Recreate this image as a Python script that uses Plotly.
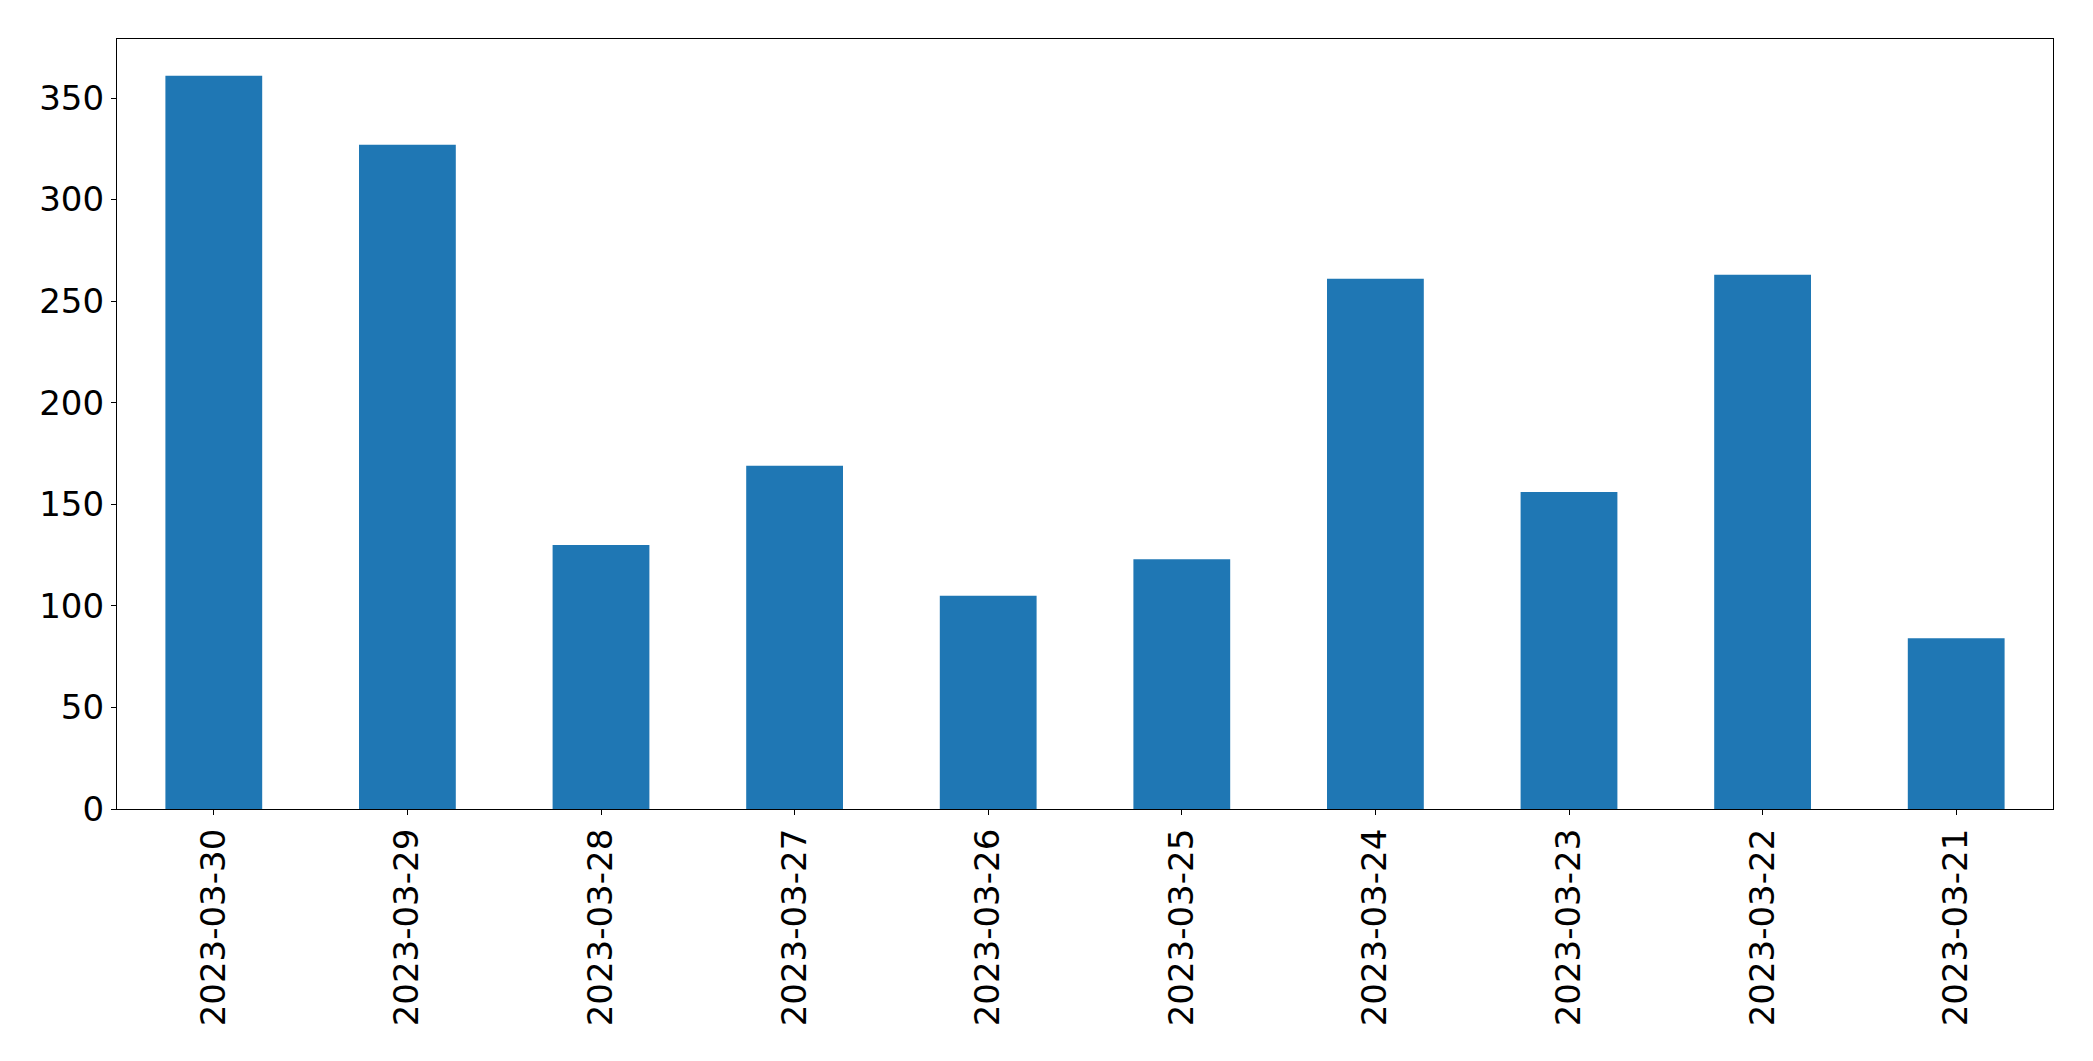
import plotly.graph_objects as go

dates = ["2023-03-30", "2023-03-29", "2023-03-28", "2023-03-27", "2023-03-26",
         "2023-03-25", "2023-03-24", "2023-03-23", "2023-03-22", "2023-03-21"]
counts = [361, 327, 130, 169, 105, 123, 261, 156, 263, 84]
y_ticks = [0, 50, 100, 150, 200, 250, 300, 350]

fig = go.Figure(go.Bar(x=dates, y=counts, width=0.5, marker_color="#1f77b4",
                       marker_line_width=0))

axis_common = dict(showline=True, linecolor="black", linewidth=1.3, mirror=True,
                   ticks="outside", ticklen=5, tickwidth=1.3, tickcolor="black",
                   showgrid=False, zeroline=False,
                   tickfont=dict(family="DejaVu Sans", size=34, color="black"))

fig.update_xaxes(type="category", range=[-0.5, len(dates) - 0.5], tickangle=-90,
                 **axis_common)
fig.update_yaxes(range=[0, max(counts) * 1.05], tickvals=y_ticks, **axis_common)

fig.update_layout(width=2093, height=1061, plot_bgcolor="white", paper_bgcolor="white",
                  margin=dict(l=117, r=40, t=39, b=252), showlegend=False)

fig.write_html("out.html")
